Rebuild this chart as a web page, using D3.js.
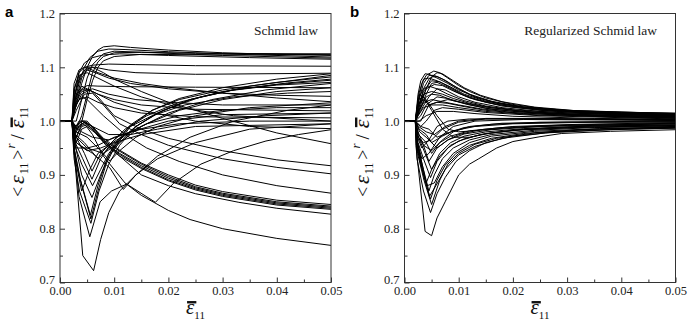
<!DOCTYPE html>
<html>
<head>
<meta charset="utf-8">
<script src="https://cdn.jsdelivr.net/npm/d3@7"></script>
<style>
  body { margin: 0; background: #fff; }
  svg { display: block; }
</style>
</head>
<body>
<svg id="chart" width="690" height="323"></svg>
<script>
// strain values are given in units of 1e-3 (per mille), ratio values as read
const xTicks = [0, 0.01, 0.02, 0.03, 0.04, 0.05];
const xMinor = [0.005, 0.015, 0.025, 0.035, 0.045];
const yTicks = [0.7, 0.8, 0.9, 1.0, 1.1, 1.2];
const yMinor = [0.75, 0.85, 0.95, 1.05, 1.15];

const elasticA = [[0, 1], [2.2, 1]];
const elasticB = [[0, 1], [2.0, 1]];

// panel a : Schmid law
const schmidCurves = [
  // plateau ~1.12-1.14
  [[3,1.03],[4,1.07],[5,1.1],[6,1.12],[7,1.132],[8,1.138],[10,1.14],[13,1.137],[20,1.132],[30,1.127],[40,1.124],[50,1.122]],
  [[2.6,1.03],[3.5,1.07],[4.5,1.1],[5.5,1.118],[7,1.13],[9,1.134],[12,1.133],[20,1.129],[30,1.125],[50,1.119]],
  [[3,0.985],[4,1.01],[5,1.05],[6,1.09],[7,1.11],[8,1.12],[10,1.127],[15,1.128],[25,1.126],[50,1.125]],
  [[3,0.97],[3.8,0.99],[5,1.04],[6,1.075],[7,1.1],[8,1.112],[10,1.12],[15,1.124],[30,1.123],[50,1.124]],
  [[2.8,1.05],[3.5,1.09],[4.5,1.108],[6,1.118],[8,1.123],[11,1.125],[20,1.122],[35,1.118],[50,1.115]],
  [[3,1.0],[4,1.04],[5,1.08],[6,1.105],[8,1.125],[10,1.13],[15,1.128],[30,1.122],[50,1.117]],
  // peak ~1.10
  [[2.7,1.06],[3.5,1.09],[4.5,1.1],[6,1.104],[9,1.106],[14,1.105],[25,1.103],[50,1.102]],
  [[2.6,1.07],[3.5,1.095],[4.5,1.1],[5.5,1.097],[7,1.09],[10,1.08],[15,1.07],[20,1.063],[30,1.052],[40,1.043],[50,1.036]],
  [[3,1.04],[4,1.08],[5,1.095],[6,1.1],[8,1.09],[10,1.078],[15,1.055],[20,1.035],[30,1.005],[40,0.978],[50,0.958]],
  [[2.8,1.05],[3.8,1.085],[5,1.1],[6.5,1.1],[9,1.095],[14,1.09],[25,1.087],[50,1.089]],
  [[2.7,1.05],[3.7,1.085],[5,1.095],[6.5,1.09],[9,1.08],[13,1.07],[20,1.06],[30,1.052],[40,1.048],[50,1.046]],
  [[2.6,1.06],[3.5,1.085],[5,1.09],[7,1.08],[10,1.065],[15,1.045],[22,1.025],[32,1.01],[50,1.0]],
  // peak ~1.05-1.065
  [[3,1.04],[4,1.06],[5,1.066],[7,1.065],[12,1.064],[25,1.063],[50,1.062]],
  [[2.7,1.03],[4,1.055],[6,1.06],[9,1.05],[14,1.04],[20,1.035],[30,1.03],[50,1.03]],
  [[2.7,1.04],[3.5,1.055],[4.5,1.06],[6,1.055],[8,1.045],[10,1.035],[15,1.02],[25,1.0],[35,0.99],[50,0.986]],
  [[3,1.03],[4,1.05],[5.5,1.058],[7,1.045],[10,1.01],[15,0.985],[20,0.968],[30,0.945],[40,0.928],[50,0.917]],
  [[3,1.02],[4.5,1.05],[6,1.052],[8,1.03],[11,0.995],[15,0.975],[20,0.955],[30,0.93],[40,0.914],[50,0.902]],
  [[2.8,1.03],[4,1.045],[5,1.04],[8,1.01],[12,0.975],[16,0.95],[22,0.925],[30,0.9],[40,0.88],[50,0.866]],
  [[3,1.05],[4,1.065],[5,1.06],[7,1.05],[10,1.04],[15,1.03],[25,1.022],[50,1.019]],
  [[2.6,1.02],[3.5,1.04],[5,1.045],[7,1.035],[10,1.025],[15,1.015],[25,1.008],[50,1.006]],
  // falling bundle to ~0.84
  [[2.8,0.975],[3.5,0.99],[4.5,0.998],[6,0.99],[8,0.965],[11,0.944],[15,0.92],[20,0.897],[25,0.878],[30,0.866],[40,0.85],[50,0.842]],
  [[2.8,0.98],[3.6,0.993],[4.5,0.997],[6,0.986],[8,0.962],[11,0.94],[15,0.917],[20,0.894],[25,0.876],[30,0.864],[40,0.848],[50,0.84]],
  [[3,0.97],[4,0.99],[5,0.993],[6.5,0.98],[8.5,0.958],[11,0.938],[15,0.914],[20,0.891],[25,0.874],[30,0.862],[40,0.846],[50,0.838]],
  [[2.7,0.985],[3.5,1.0],[4.5,1.0],[6,0.99],[8,0.968],[11,0.946],[15,0.922],[20,0.9],[25,0.881],[30,0.869],[40,0.853],[50,0.845]],
  [[3,0.96],[4,0.985],[5,0.99],[6.5,0.978],[8.5,0.955],[11,0.935],[15,0.912],[20,0.889],[25,0.872],[30,0.86],[40,0.844],[50,0.836]],
  [[3,0.99],[4,1.0],[5,1.0],[8,0.965],[11,0.935],[15,0.9],[20,0.88],[25,0.865],[33,0.849],[40,0.838],[50,0.827]],
  [[3,0.985],[4.5,0.995],[6,0.975],[8,0.935],[12,0.885],[15,0.862],[20,0.834],[24,0.817],[30,0.8],[40,0.782],[50,0.769]],
  // V-shaped dips, then rising
  [[2.8,0.92],[4.2,0.75],[6.2,0.722],[7.5,0.78],[9,0.83],[11,0.87],[14,0.9],[18,0.93],[25,0.96],[35,0.985],[50,0.995]],
  [[2.8,0.93],[3.5,0.86],[5.5,0.785],[7.4,0.85],[9.5,0.87],[12.3,0.883],[17.6,0.849],[21,0.885],[26,0.92],[32,0.945],[38,0.963],[44,0.975],[50,0.984]],
  [[2.6,0.95],[3.5,0.9],[5.7,0.818],[7,0.87],[8.5,0.92],[10,0.95],[13,0.99],[17,1.02],[22,1.042],[30,1.062],[40,1.078],[50,1.088]],
  [[2.7,0.945],[3.8,0.89],[5.6,0.825],[7,0.88],[8.5,0.925],[10,0.955],[13,0.993],[17,1.02],[22,1.04],[30,1.058],[40,1.072],[50,1.082]],
  [[2.6,0.93],[3.6,0.87],[5.7,0.81],[7.2,0.87],[9,0.92],[11,0.955],[14,0.99],[18,1.015],[24,1.04],[32,1.058],[40,1.068],[50,1.076]],
  [[2.7,0.96],[4,0.9],[5.9,0.858],[7.5,0.9],[9,0.935],[11,0.96],[14,0.99],[18,1.015],[24,1.04],[32,1.058],[42,1.071],[50,1.078]],
  [[2.6,0.94],[4,0.87],[5.5,0.91],[7,0.94],[9,0.955],[12,0.975],[16,0.995],[22,1.02],[30,1.04],[40,1.055],[50,1.062]],
  [[2.8,0.96],[4.2,0.93],[5.9,0.892],[7.5,0.93],[9.5,0.96],[12,0.985],[16,1.01],[22,1.035],[30,1.055],[40,1.067],[50,1.072]],
  [[3,0.97],[4.5,0.94],[5.9,0.907],[7.5,0.94],[10,0.965],[13,0.99],[17,1.01],[23,1.03],[32,1.045],[42,1.052],[50,1.055]],
  [[3,0.98],[5,0.97],[7,0.95],[9.2,0.926],[11,0.945],[14,0.97],[18,0.99],[25,1.01],[35,1.025],[50,1.034]],
  [[3,0.96],[4.5,0.95],[6,0.94],[9.2,0.913],[11.7,0.873],[14,0.9],[18,0.935],[24,0.97],[32,1.0],[42,1.02],[50,1.03]],
  [[2.8,0.975],[4.5,0.96],[7,0.93],[9,0.95],[12,0.975],[16,0.995],[22,1.01],[30,1.02],[40,1.025],[50,1.025]],
  [[2.7,0.955],[4,0.92],[6,0.88],[7.5,0.91],[9,0.94],[11,0.965],[14,0.99],[19,1.02],[26,1.045],[35,1.065],[50,1.085]],
  [[3,0.97],[5,0.95],[8,0.94],[11,0.96],[15,0.99],[20,1.015],[28,1.04],[38,1.058],[50,1.07]],
  [[3,0.95],[5,0.95],[7,0.955],[10,0.97],[15,0.985],[22,0.995],[35,1.0],[50,1.0]],
  [[3,0.96],[5,0.945],[7.5,0.95],[10,0.96],[15,0.975],[25,0.99],[50,0.995]],
  [[2.8,0.99],[4,1.0],[6,0.99],[9,0.975],[13,0.975],[18,0.985],[26,1.0],[38,1.01],[50,1.015]],
  [[2.8,0.99],[4,0.98],[6,0.97],[9,0.965],[13,0.98],[20,1.0],[30,1.012],[50,1.015]]
];

// panel b : regularized Schmid law
const regularizedCurves = [
  [[2.6,1.04],[3.2,1.07],[4,1.085],[5.4,1.093],[6.5,1.09],[8,1.08],[10,1.066],[12,1.055],[15,1.043],[20,1.031],[25,1.024],[30,1.02],[40,1.016],[50,1.015]],
  [[2.5,1.05],[3,1.075],[3.8,1.088],[4.5,1.087],[6,1.08],[8,1.07],[10,1.058],[13,1.045],[17,1.034],[22,1.026],[30,1.019],[40,1.015],[50,1.013]],
  [[2.8,1.03],[3.5,1.06],[4.5,1.078],[6,1.09],[7,1.088],[9,1.075],[11,1.062],[14,1.048],[18,1.036],[24,1.026],[32,1.019],[50,1.014]],
  [[2.7,1.04],[3.5,1.07],[4.5,1.085],[5.5,1.085],[7,1.078],[9,1.066],[12,1.05],[16,1.037],[22,1.026],[30,1.018],[40,1.014],[50,1.012]],
  [[3,1.03],[4,1.06],[5,1.082],[6,1.083],[7.5,1.076],[10,1.06],[13,1.045],[17,1.033],[23,1.024],[32,1.017],[50,1.012]],
  [[2.6,1.05],[3.5,1.078],[4.5,1.08],[6,1.075],[8,1.066],[11,1.05],[15,1.037],[21,1.027],[30,1.02],[50,1.014]],
  [[2.6,1.03],[3.5,1.055],[5,1.075],[6.5,1.073],[8.5,1.062],[11,1.048],[15,1.035],[20,1.026],[28,1.018],[40,1.013],[50,1.011]],
  [[2.8,1.03],[4,1.06],[5.5,1.068],[7,1.066],[9,1.056],[12,1.043],[17,1.031],[25,1.021],[36,1.015],[50,1.012]],
  [[2.8,1.02],[4,1.05],[5,1.07],[6,1.072],[8,1.063],[10,1.052],[13,1.04],[18,1.028],[25,1.02],[35,1.014],[50,1.01]],
  [[2.5,1.04],[3.5,1.06],[4.5,1.065],[6,1.06],[8,1.05],[11,1.038],[15,1.028],[20,1.021],[30,1.015],[50,1.01]],
  [[3,1.02],[4.5,1.045],[6,1.06],[7.5,1.058],[10,1.045],[13,1.035],[18,1.025],[25,1.018],[35,1.013],[50,1.009]],
  [[2.6,1.03],[3.5,1.05],[5,1.055],[7,1.05],[9,1.042],[12,1.033],[16,1.025],[22,1.018],[30,1.013],[50,1.008]],
  [[2.7,1.02],[4,1.045],[5,1.05],[6.5,1.048],[9,1.038],[12,1.03],[16,1.022],[24,1.015],[35,1.011],[50,1.008]],
  [[2.5,1.03],[3.5,1.04],[4.5,1.03],[6,1.035],[8,1.04],[11,1.034],[15,1.026],[22,1.018],[35,1.011],[50,1.008]],
  [[3,1.01],[4,1.03],[6,1.045],[8,1.042],[11,1.033],[15,1.024],[20,1.018],[30,1.012],[50,1.007]],
  [[2.7,1.02],[3.6,1.035],[5,1.04],[7,1.036],[10,1.03],[14,1.023],[20,1.016],[30,1.011],[50,1.006]],
  [[3,1.0],[4.5,1.03],[6,1.035],[8,1.033],[11,1.027],[15,1.02],[22,1.014],[35,1.009],[50,1.006]],
  [[2.5,1.01],[3.5,1.025],[5,1.03],[7,1.03],[10,1.025],[15,1.018],[25,1.011],[50,1.005]],
  [[3,0.99],[4,1.0],[5.5,1.02],[7,1.025],[10,1.022],[15,1.016],[25,1.01],[50,1.004]],
  [[2.7,1.0],[4,1.01],[6,1.018],[9,1.018],[13,1.014],[20,1.009],[35,1.005],[50,1.003]],
  [[2.6,1.04],[3.5,1.045],[5,1.02],[7,0.985],[9,0.97],[12,0.97],[16,0.978],[22,0.985],[32,0.99],[50,0.993]],
  [[2.8,1.05],[4,1.04],[6,1.01],[8,0.985],[10,0.98],[14,0.983],[20,0.988],[30,0.992],[50,0.995]],
  [[2.1,0.955],[3.8,0.795],[5,0.787],[6,0.82],[7.5,0.85],[10,0.9],[12,0.92],[13.7,0.93],[17,0.95],[20,0.962],[25,0.971],[29,0.977],[38,0.981],[50,0.984]],
  [[2.3,0.93],[3.5,0.87],[4.8,0.83],[6,0.865],[7.5,0.895],[9.5,0.925],[12,0.945],[15,0.96],[20,0.972],[28,0.98],[40,0.985],[50,0.987]],
  [[2.4,0.94],[3.6,0.89],[5,0.845],[6.5,0.89],[8,0.92],[10,0.94],[13,0.957],[17,0.968],[24,0.978],[35,0.985],[50,0.988]],
  [[2.3,0.95],[3.5,0.9],[4.8,0.855],[6,0.89],[7.5,0.918],[9.5,0.94],[12,0.955],[16,0.968],[22,0.977],[32,0.984],[50,0.989]],
  [[2.5,0.95],[3.5,0.91],[4.5,0.87],[5.5,0.9],[7,0.93],[9,0.95],[12,0.965],[16,0.975],[24,0.983],[35,0.988],[50,0.99]],
  [[2.4,0.96],[4,0.885],[5,0.91],[6.5,0.935],[8.5,0.955],[11,0.967],[15,0.977],[22,0.984],[35,0.989],[50,0.991]],
  [[2.5,0.96],[3.5,0.93],[4.8,0.895],[6,0.925],[8,0.95],[10,0.963],[14,0.975],[20,0.983],[30,0.988],[50,0.992]],
  [[2.6,0.97],[3.8,0.94],[5,0.91],[6.5,0.94],[8.5,0.96],[11,0.972],[15,0.98],[22,0.986],[35,0.991],[50,0.993]],
  [[2.5,0.98],[3.5,0.955],[4.5,0.925],[6,0.95],[8,0.965],[11,0.976],[16,0.984],[25,0.99],[50,0.995]],
  [[2.6,0.975],[4,0.96],[5,0.94],[6.5,0.96],[8.5,0.972],[12,0.982],[18,0.988],[30,0.993],[50,0.996]],
  [[2.8,0.98],[4,0.97],[6,0.95],[8,0.965],[10,0.975],[14,0.984],[20,0.99],[32,0.994],[50,0.997]],
  [[2.7,0.985],[4,0.975],[5,0.96],[7,0.972],[9,0.982],[13,0.99],[20,0.995],[35,0.998],[50,0.999]],
  [[3,0.99],[4.5,0.985],[6,0.97],[8,0.978],[11,0.988],[16,0.994],[25,0.998],[50,1.0]],
  [[2.6,0.99],[4,0.98],[5.5,0.975],[7.5,0.99],[10,1.0],[15,1.005],[25,1.005],[50,1.003]],
  [[2.5,0.97],[3.5,0.96],[5,0.965],[7,0.985],[10,0.998],[15,1.004],[25,1.004],[50,1.002]],
  [[2.4,0.97],[3.2,0.95],[4.5,0.965],[6,0.99],[8,1.0],[12,1.004],[20,1.004],[50,1.002]],
  [[2.4,0.96],[3.2,0.93],[4.5,0.94],[6.5,0.97],[9,0.99],[13,1.0],[22,1.003],[50,1.001]],
  [[2.3,0.975],[3.5,0.955],[5,0.945],[7,0.965],[9,0.98],[12,0.99],[18,0.996],[30,0.998],[50,0.998]],
  [[2.2,0.96],[3,0.92],[4.2,0.88],[5.5,0.885],[7,0.915],[9,0.94],[12,0.96],[16,0.972],[24,0.981],[36,0.986],[50,0.989]],
  [[2.3,0.96],[3.4,0.905],[4.6,0.86],[5.8,0.88],[7.5,0.91],[10,0.937],[13,0.953],[18,0.968],[26,0.978],[38,0.984],[50,0.987]]
];

const serif = "'Liberation Serif', 'Times New Roman', serif";
const svg = d3.select('#chart');
const plotTop = 13.5, plotH = 269, plotW = 271;
const plotBottom = plotTop + plotH;

const panels = [
  { left: 60, letter: 'a', letterX: 5, title: 'Schmid law', titleX: 318, curves: schmidCurves, elastic: elasticA },
  { left: 404.5, letter: 'b', letterX: 350, title: 'Regularized Schmid law', titleX: 657, curves: regularizedCurves, elastic: elasticB }
];

// draws a little formula piece by piece, returns its width
function mathText(g, parts) {
  let cx = 0;
  parts.forEach(p => {
    const t = g.append('text')
      .attr('x', cx)
      .attr('y', p.dy || 0)
      .style('font-family', serif)
      .style('font-size', p.size + 'px')
      .style('font-style', p.italic ? 'italic' : 'normal')
      .attr('fill', '#111')
      .text(p.t);
    const w = t.node().getComputedTextLength();
    if (p.bar) {
      g.append('line')
        .attr('x1', cx + 1).attr('x2', cx + w + 2)
        .attr('y1', -p.size * 0.56).attr('y2', -p.size * 0.56)
        .attr('stroke', '#111').attr('stroke-width', 2.4);
    }
    cx += w + (p.gap || 0);
  });
  return cx;
}

const epsBar = [
  { t: 'ε', size: 21, italic: true, bar: true },
  { t: '11', size: 11, dy: 5 }
];
const ratioLabel = [
  { t: '<', size: 18, gap: 3 },
  { t: 'ε', size: 22, italic: true, gap: 1 },
  { t: '11', size: 12, dy: 4, gap: 3 },
  { t: '>', size: 18, gap: 1 },
  { t: 'r', size: 13, italic: true, dy: -9, gap: 4 },
  { t: '/', size: 19, gap: 6 },
  { t: 'ε', size: 22, italic: true, bar: true, gap: 1 },
  { t: '11', size: 12, dy: 4 }
];

panels.forEach(p => {
  const g = svg.append('g');
  const x = d3.scaleLinear().domain([0, 0.05]).range([p.left, p.left + plotW]);
  const y = d3.scaleLinear().domain([0.7, 1.2]).range([plotBottom, plotTop]);

  const line = d3.line()
    .x(d => x(d[0] / 1000))
    .y(d => y(d[1]));

  g.append('g')
    .selectAll('path')
    .data(p.curves)
    .join('path')
    .attr('d', c => line(p.elastic.concat(c)))
    .attr('fill', 'none')
    .attr('stroke', '#000')
    .attr('stroke-width', 1);

  // box
  g.append('rect')
    .attr('x', p.left).attr('y', plotTop)
    .attr('width', plotW).attr('height', plotH)
    .attr('fill', 'none').attr('stroke', '#333').attr('stroke-width', 1);

  const styleAxis = a => {
    a.select('.domain').remove();
    a.selectAll('line').attr('stroke', '#333');
    a.selectAll('text')
      .style('font-family', serif)
      .style('font-size', '12.5px')
      .attr('fill', '#222');
  };

  g.append('g')
    .attr('transform', `translate(0,${plotBottom})`)
    .call(d3.axisBottom(x).tickValues(xTicks).tickSize(-5).tickPadding(4).tickFormat(d3.format('.2f')))
    .call(styleAxis);
  g.append('g')
    .attr('transform', `translate(0,${plotBottom})`)
    .call(d3.axisBottom(x).tickValues(xMinor).tickSize(-3).tickFormat(''))
    .call(styleAxis);
  g.append('g')
    .attr('transform', `translate(${p.left},0)`)
    .call(d3.axisLeft(y).tickValues(yTicks).tickSize(-5).tickPadding(5).tickFormat(d3.format('.1f')))
    .call(styleAxis)
    .call(a => a.selectAll('.tick text').filter(d => d === 0.7).attr('dy', '0.05em'));
  g.append('g')
    .attr('transform', `translate(${p.left},0)`)
    .call(d3.axisLeft(y).tickValues(yMinor).tickSize(-3).tickFormat(''))
    .call(styleAxis);

  // title inside plot
  g.append('text')
    .attr('x', p.titleX).attr('y', 35)
    .attr('text-anchor', 'end')
    .style('font-family', serif)
    .style('font-size', '13.5px')
    .attr('fill', '#222')
    .text(p.title);

  // panel letter
  g.append('text')
    .attr('x', p.letterX).attr('y', 17)
    .style('font-family', "'Liberation Sans', Arial, sans-serif")
    .style('font-size', '15px')
    .style('font-weight', 'bold')
    .text(p.letter);

  // x label
  const xl = g.append('g');
  const xlInner = xl.append('g');
  const xw = mathText(xlInner, epsBar);
  xlInner.attr('transform', `translate(${-xw / 2},0)`);
  xl.attr('transform', `translate(${p.left + plotW / 2},314)`);

  // y label
  const yl = g.append('g');
  const ylInner = yl.append('g');
  const yw = mathText(ylInner, ratioLabel);
  ylInner.attr('transform', `translate(${-yw / 2},0)`);
  yl.attr('transform', `translate(${p.left - 36},152) rotate(-90)`);
});
</script>
</body>
</html>
